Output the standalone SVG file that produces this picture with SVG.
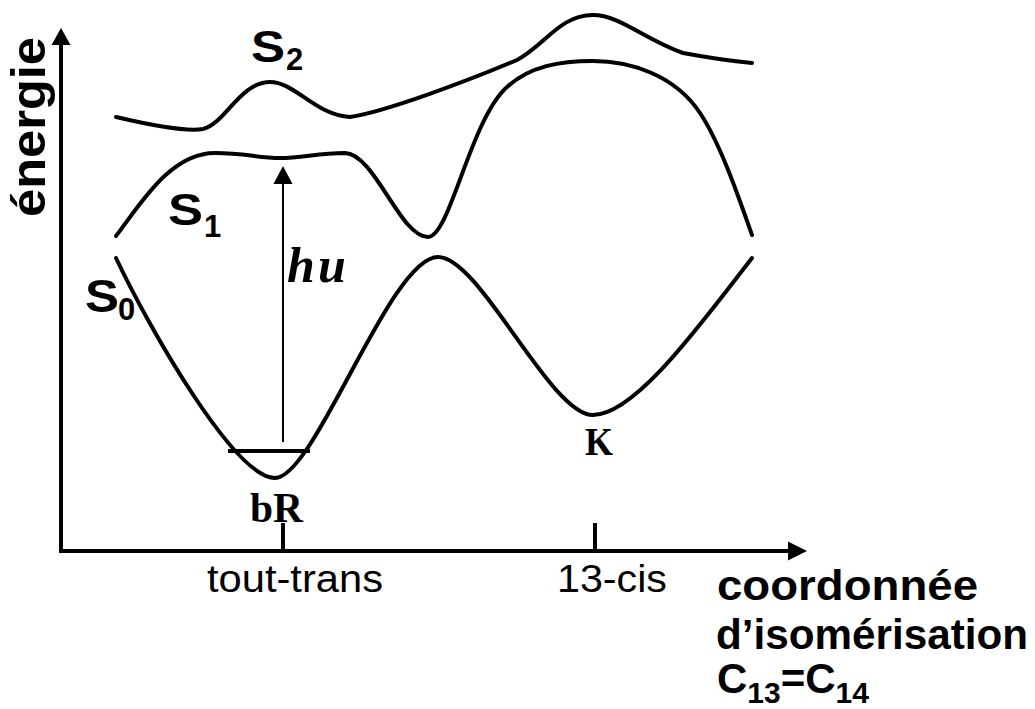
<svg xmlns="http://www.w3.org/2000/svg" width="1035" height="709" viewBox="0 0 1035 709">
<style>
.curve{fill:none;stroke:#000;stroke-width:4;stroke-linecap:round;stroke-linejoin:round}
.axis{fill:none;stroke:#000;stroke-width:4}
.thin{fill:none;stroke:#000;stroke-width:2}
.sans{font-family:"Liberation Sans",Arial,sans-serif;fill:#000}
.bold{font-weight:bold}
.serif{font-family:"Liberation Serif","Times New Roman",serif;font-weight:bold;fill:#000}
</style>
<rect width="1035" height="709" fill="#fff"/>
<g id="axes">
<line class="axis" x1="61" y1="553" x2="61" y2="44"/>
<path d="M61,28 L51.5,45 L70.5,45 Z" fill="#000"/>
<line class="axis" x1="59" y1="551" x2="790" y2="551"/>
<path d="M807,551 L788,541.5 L788,560.5 Z" fill="#000"/>
<line class="axis" x1="283" y1="523" x2="283" y2="551"/>
<line class="axis" x1="595" y1="523" x2="595" y2="551"/>
</g>
<g id="curves">
<path id="S0curve" class="curve" d="M116,258 C150,330 235,478 275,478 C315,478 390,257 438,257 C480,257 550,415 593,415 C635,415 700,325 752,258"/>
<path id="S1curve" class="curve" d="M116,236 C140,205 170,153 215,153 C245,153 258,158 280,158 C302,158 318,153 345,153 C375,154 400,237 428,237 C450,237 470,120 507,87 C530,66 560,61 593,61 C630,61 675,75 700,113 C720,143 738,195 752,235"/>
<path id="S2curve" class="curve" d="M116,117 C150,125 185,132 203,129 C225,124 240,82 270,82 C295,82 315,115 350,117 C385,112 470,80 517,60 C545,45 560,15 593,15 C620,15 645,40 683,53 C710,58 730,61 752,63"/>
<line id="level" class="axis" x1="228" y1="451" x2="310" y2="451"/>
</g>
<g id="excitation">
<line class="thin" x1="283" y1="442" x2="283" y2="182"/>
<path d="M283,166 L273.5,184 L292.5,184 Z" fill="#000"/>
<text class="serif" font-style="italic" font-size="50" x="287" y="282">h<tspan x="318">u</tspan></text>
</g>
<g id="labels">
<text class="sans bold" font-size="44" x="251" y="62"><tspan textLength="34" lengthAdjust="spacingAndGlyphs">S</tspan><tspan x="286" y="70" font-size="31">2</tspan></text>
<text class="sans bold" font-size="45" x="168" y="225"><tspan textLength="35" lengthAdjust="spacingAndGlyphs">S</tspan><tspan x="204" y="237" font-size="31">1</tspan></text>
<text class="sans bold" font-size="46" x="85" y="312"><tspan textLength="34" lengthAdjust="spacingAndGlyphs">S</tspan><tspan x="118" y="320" font-size="31">0</tspan></text>
<text class="serif" font-size="42" x="250" y="522" textLength="53" lengthAdjust="spacingAndGlyphs">bR</text>
<text class="serif" font-size="40" x="585" y="455" textLength="28" lengthAdjust="spacingAndGlyphs">K</text>
<text class="sans bold" font-size="48" transform="translate(45,217) rotate(-90)" textLength="180" lengthAdjust="spacingAndGlyphs">énergie</text>
<text class="sans" font-size="38" x="207" y="592" textLength="176" lengthAdjust="spacingAndGlyphs">tout-trans</text>
<text class="sans" font-size="38" x="557" y="592" textLength="110" lengthAdjust="spacingAndGlyphs">13-cis</text>
<text class="sans bold" font-size="43" x="717" y="600" textLength="261" lengthAdjust="spacingAndGlyphs">coordonnée</text>
<text class="sans bold" font-size="42" x="716" y="649" textLength="312" lengthAdjust="spacingAndGlyphs">d’isomérisation</text>
<text class="sans bold" font-size="42" x="717" y="693">C<tspan dy="10" font-size="30">13</tspan><tspan dy="-10">=</tspan>C<tspan dy="10" font-size="30">14</tspan></text>
</g>
</svg>
